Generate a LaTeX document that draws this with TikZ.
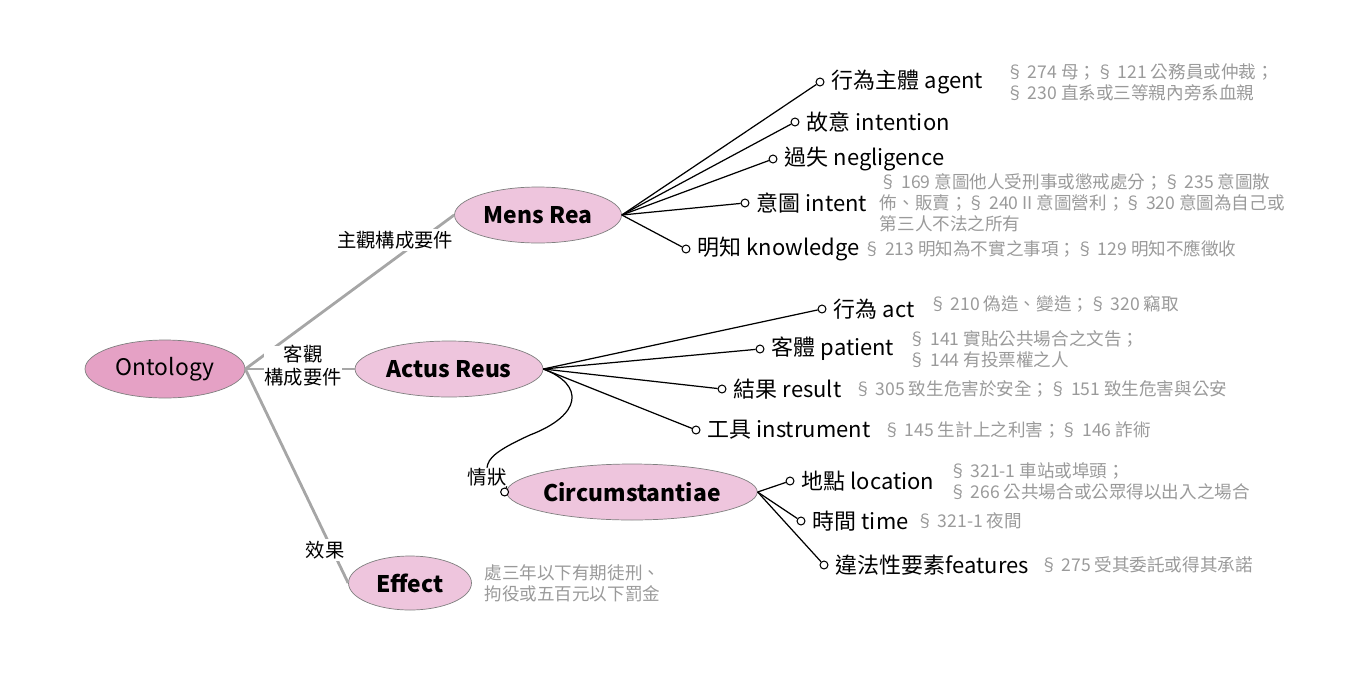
\documentclass[tikz,border=0pt]{standalone}
\usepackage{fontspec}
\setmainfont{Noto Sans CJK TC}
\usetikzlibrary{positioning, shapes.geometric}

\definecolor{rootpink}{HTML}{E5A1C5}
\definecolor{topicpink}{HTML}{EEC5DD}
\definecolor{rimgray}{HTML}{7F7F7F}
\definecolor{branchgray}{HTML}{A6A6A6}
\definecolor{notegray}{HTML}{9A9A9A}

\begin{document}
\begin{tikzpicture}[x=0.02cm, y=-0.02cm,
    root/.style={ellipse, draw=rimgray, fill=rootpink, inner sep=0pt, minimum width=3.2cm, minimum height=1.16cm, font=\fontsize{13}{15}\selectfont},
    topic/.style={ellipse, draw=rimgray, fill=topicpink, inner sep=0pt, minimum height=1.12cm, font=\fontsize{13}{15}\selectfont\bfseries},
    branch/.style={draw=branchgray, line width=1.6pt},
    elabel/.style={fill=white, inner sep=1pt, align=center, font=\fontsize{11}{13}\selectfont},
    link/.style={draw=black, line width=0.7pt},
    dot/.style={circle, draw=black, fill=white, line width=0.6pt, inner sep=0pt, minimum size=4.5pt},
    leaf/.style={anchor=west, inner sep=1pt, font=\fontsize{12.5}{14}\selectfont},
    note/.style={anchor=west, inner sep=1pt, text=notegray, align=left, font=\fontsize{10}{12}\selectfont}]

  \useasboundingbox (0,0) rectangle (1354,676);

  % ellipses
  \node[root] (onto) at (165,369) {Ontology};
  \node[topic, minimum width=3.34cm] (mr) at (538,215) {Mens Rea};
  \node[topic, minimum width=3.76cm] (ar) at (449,369) {Actus Reus};
  \node[topic, minimum width=4.66cm] (cir) at (632,492) {Circumstantiae};
  \node[topic, minimum width=2.46cm, minimum height=1.08cm] (eff) at (410,583) {Effect};

  % gray branches from the root
  \draw[branch] (onto.east) -- (mr.west);
  \draw[branch] (onto.east) -- (ar.west);
  \draw[branch] (onto.east) -- (eff.west);
  \node[elabel] (l-mr) at (395,240) {主觀構成要件};
  \node[elabel, inner sep=0pt] (l-ar) at (303,366) {客觀\\構成要件};
  \node[elabel] (l-eff) at (325,550) {效果};

  % Mens Rea
  \node[dot] (d-agent) at (820,82) {};
  \node[dot] (d-intention) at (795,122) {};
  \node[dot] (d-neg) at (773,159) {};
  \node[dot] (d-intent) at (745,203) {};
  \node[dot] (d-know) at (686,249) {};
  \foreach \d in {agent, intention, neg, intent, know}
    \draw[link] (mr.east) -- (d-\d);
  \node[leaf, right=3pt of d-agent] (agent) {行為主體 agent};
  \node[leaf, right=3pt of d-intention] (intention) {故意 intention};
  \node[leaf, right=3pt of d-neg] (neg) {過失 negligence};
  \node[leaf, right=3pt of d-intent] (intent) {意圖 intent};
  \node[leaf, right=3pt of d-know] (know) {明知 knowledge};
  \node[note, right=11pt of agent] (n-agent) {§ 274 母；§ 121 公務員或仲裁；\\§ 230 直系或三等親內旁系血親};
  \node[note, right=5pt of intent] (n-intent) {§ 169 意圖他人受刑事或懲戒處分；§ 235 意圖散\\佈、販賣；§ 240 II 意圖營利；§ 320 意圖為自己或\\第三人不法之所有};
  \node[note, right=0pt of know] (n-know) {§ 213 明知為不實之事項；§ 129 明知不應徵收};

  % Actus Reus
  \node[dot] (d-act) at (822,309) {};
  \node[dot] (d-patient) at (760,349) {};
  \node[dot] (d-result) at (722,389) {};
  \node[dot] (d-instr) at (696,430) {};
  \foreach \d in {act, patient, result, instr}
    \draw[link] (ar.east) -- (d-\d);
  \node[leaf, right=3pt of d-act] (act) {行為 act};
  \node[leaf, right=3pt of d-patient] (patient) {客體 patient};
  \node[leaf, right=3pt of d-result] (result) {結果 result};
  \node[leaf, right=3pt of d-instr] (instr) {工具 instrument};
  \node[note, right=6pt of act, yshift=3pt] (n-act) {§ 210 偽造、變造；§ 320 竊取};
  \node[note, right=6pt of patient] (n-patient) {§ 141 實貼公共場合之文告；\\§ 144 有投票權之人};
  \node[note, right=5pt of result] (n-result) {§ 305 致生危害於安全；§ 151 致生危害與公安};
  \node[note, right=5pt of instr] (n-instr) {§ 145 生計上之利害；§ 146 詐術};

  % circumstances hang off Actus Reus
  \node[elabel, inner sep=0pt] (sit) at (487,477) {情狀};
  \node[dot] (d-cir) at ([xshift=-1pt]cir.west) {};
  \draw[link] (ar.east) .. controls (585,385) and (582,415) .. (530,435)
    .. controls (497,450) and (488,458) .. (sit.north);
  \draw[link] (sit.south east) -- (d-cir);

  % Circumstantiae
  \node[dot] (d-loc) at (790,481) {};
  \node[dot] (d-time) at (801,521) {};
  \node[dot] (d-feat) at (824,565) {};
  \foreach \d in {loc, time, feat}
    \draw[link] (cir.east) -- (d-\d);
  \node[leaf, right=3pt of d-loc] (loc) {地點 location};
  \node[leaf, right=3pt of d-time] (time) {時間 time};
  \node[leaf, right=3pt of d-feat] (feat) {違法性要素features};
  \node[note, right=6pt of loc] (n-loc) {§ 321-1 車站或埠頭；\\§ 266 公共場合或公眾得以出入之場合};
  \node[note, right=2pt of time] (n-time) {§ 321-1 夜間};
  \node[note, right=4pt of feat] (n-feat) {§ 275 受其委託或得其承諾};

  % Effect
  \node[note, right=6pt of eff] (n-eff) {處三年以下有期徒刑、\\拘役或五百元以下罰金};

\end{tikzpicture}
\end{document}
